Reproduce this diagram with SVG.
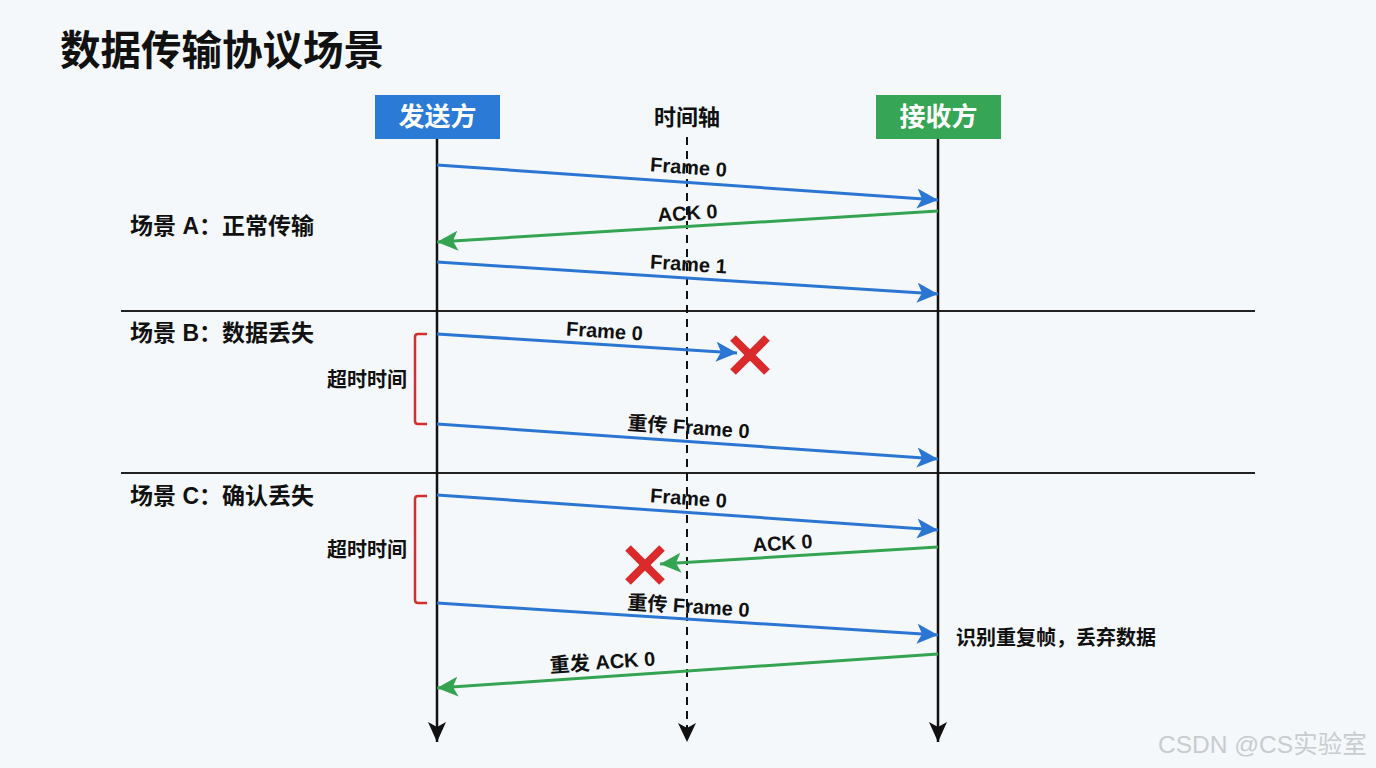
<svg xmlns="http://www.w3.org/2000/svg" width="1376" height="768" viewBox="0 0 1376 768">
<style>
.t{font-family:"Liberation Sans","Noto Sans CJK SC",sans-serif;font-weight:bold;fill:#111}
.lbl{font-size:20px;text-anchor:middle}
.sc{font-size:23px}
.hd{font-size:26px;fill:#fff;text-anchor:middle}
.blue{stroke:#2B76D3;stroke-width:3;fill:none;marker-end:url(#ab)}
.green{stroke:#35A452;stroke-width:3;fill:none;marker-end:url(#ag)}
.life{stroke:#111;stroke-width:2.5;fill:none;marker-end:url(#ak)}
.sep{stroke:#222;stroke-width:2}
.xx{stroke:#DA2A2C;stroke-width:8}
.br{stroke:#D32F2F;stroke-width:2.5;fill:none;stroke-linejoin:round}
</style>
<defs>
<marker id="ab" markerUnits="userSpaceOnUse" markerWidth="21" markerHeight="20" refX="21" refY="10" orient="auto"><path d="M0,0 L21,10 L0,20 L5,10 z" fill="#2B76D3"/></marker>
<marker id="ag" markerUnits="userSpaceOnUse" markerWidth="21" markerHeight="20" refX="21" refY="10" orient="auto"><path d="M0,0 L21,10 L0,20 L5,10 z" fill="#35A452"/></marker>
<marker id="ak" markerUnits="userSpaceOnUse" markerWidth="20" markerHeight="18" refX="20" refY="9" orient="auto"><path d="M0,0 L20,9 L0,18 L5,9 z" fill="#111"/></marker>
</defs>
<rect width="1376" height="768" fill="#F4F8FA"/>
<text class="t" x="60" y="65" font-size="40.5">数据传输协议场景</text>

<g id="separators">
<line class="sep" x1="121" y1="311" x2="1255" y2="311"/>
<line class="sep" x1="121" y1="473" x2="1255" y2="473"/>
</g>

<g id="sender">
<rect x="375" y="95" width="125" height="44" fill="#2A7AD6"/>
<text class="t hd" x="437.5" y="126">发送方</text>
<line class="life" x1="437" y1="139" x2="437" y2="742"/>
</g>
<g id="receiver">
<rect x="876" y="95" width="125" height="44" fill="#37A556"/>
<text class="t hd" x="938.5" y="126">接收方</text>
<line class="life" x1="938" y1="139" x2="938" y2="742"/>
</g>
<g id="timeaxis">
<text class="t" x="687" y="125" font-size="22" text-anchor="middle">时间轴</text>
<line x1="687" y1="137" x2="687" y2="728" stroke="#111" stroke-width="2" stroke-dasharray="8 6"/>
<path d="M678,723 L687,742 L696,723 L687,728 z" fill="#111"/>
</g>

<g id="scenario-labels">
<text class="t sc" x="130" y="234">场景 A：正常传输</text>
<text class="t sc" x="130" y="341">场景 B：数据丢失</text>
<text class="t sc" x="130" y="504">场景 C：确认丢失</text>
<text class="t" x="367" y="387" font-size="20" text-anchor="middle">超时时间</text>
<text class="t" x="367" y="557" font-size="20" text-anchor="middle">超时时间</text>
<text class="t" x="956" y="645" font-size="20">识别重复帧，丢弃数据</text>
</g>

<g id="brackets">
<path class="br" d="M427,334 L418,334 Q415,334 415,337 L415,421 Q415,424 418,424 L427,424"/>
<path class="br" d="M427,496 L418,496 Q415,496 415,499 L415,600 Q415,603 418,603 L427,603"/>
</g>

<g id="lost-marks">
<g transform="translate(750,355)"><line class="xx" x1="-17" y1="-17" x2="17" y2="17"/><line class="xx" x1="17" y1="-17" x2="-17" y2="17"/></g>
<g transform="translate(645,565)"><line class="xx" x1="-17" y1="-17" x2="17" y2="17"/><line class="xx" x1="17" y1="-17" x2="-17" y2="17"/></g>
</g>

<g id="connectors">
<line class="blue" x1="437" y1="165" x2="938" y2="200"/>
<line class="green" x1="938" y1="211" x2="437" y2="242"/>
<line class="blue" x1="437" y1="262" x2="938" y2="294"/>
<line class="blue" x1="437" y1="334" x2="737" y2="353"/>
<line class="blue" x1="437" y1="424" x2="938" y2="459"/>
<line class="blue" x1="437" y1="495" x2="938" y2="530"/>
<line class="green" x1="938" y1="547" x2="660" y2="564"/>
<line class="blue" x1="437" y1="603" x2="938" y2="635"/>
<line class="green" x1="938" y1="654" x2="437" y2="688"/>
</g>

<g id="connector-labels">
<text class="t lbl" x="688" y="174" transform="rotate(4 688 174)">Frame 0</text>
<text class="t lbl" x="688" y="220" transform="rotate(-3.5 688 220)">ACK 0</text>
<text class="t lbl" x="688" y="271" transform="rotate(3.6 688 271)">Frame 1</text>
<text class="t lbl" x="604" y="338" transform="rotate(3.6 604 338)">Frame 0</text>
<text class="t lbl" x="688" y="434" transform="rotate(4 688 434)">重传 Frame 0</text>
<text class="t lbl" x="688" y="505" transform="rotate(4 688 505)">Frame 0</text>
<text class="t lbl" x="783" y="550" transform="rotate(-3.5 783 550)">ACK 0</text>
<text class="t lbl" x="688" y="613" transform="rotate(3.6 688 613)">重传 Frame 0</text>
<text class="t lbl" x="603" y="669" transform="rotate(-3.9 603 669)">重发 ACK 0</text>
</g>

<text x="1158" y="753" font-family="Liberation Sans,'Noto Sans CJK SC',sans-serif" font-size="24.5" fill="#C9CCCE">CSDN @CS实验室</text>
</svg>
